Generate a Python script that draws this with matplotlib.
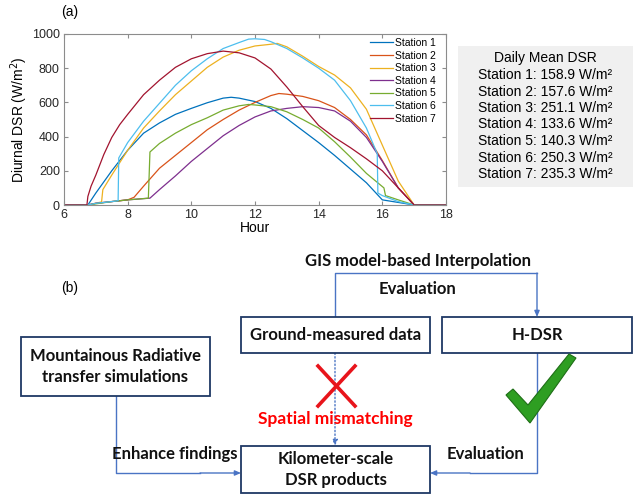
import matplotlib
matplotlib.use('Agg')
import matplotlib.pyplot as plt
from matplotlib.patches import Rectangle, Polygon

# ---- data (hour, W/m2) ----
s1_h = [6, 6.75, 7.0, 7.5, 8.0, 8.5, 9.0, 9.5, 10.0, 10.5, 11.0, 11.25, 11.5, 12.0,
        12.5, 13.0, 13.5, 14.0, 14.5, 15.0, 15.5, 16.0, 16.5, 17.0, 18]
s1_v = [0, 0, 70, 200, 320, 420, 480, 530, 565, 598, 625, 630, 625, 605,
        565, 505, 435, 365, 290, 210, 130, 30, 15, 0, 0]

s2_h = [6, 6.75, 7.0, 7.5, 8.0, 8.2, 8.5, 9.0, 9.5, 10.0, 10.5, 11.0, 11.5, 12.0,
        12.5, 12.75, 13.0, 13.5, 14.0, 14.5, 15.0, 15.5, 16.0, 16.5, 17.0, 18]
s2_v = [0, 0, 10, 20, 30, 45, 110, 215, 290, 365, 440, 500, 555, 600,
        640, 652, 648, 635, 610, 570, 500, 410, 260, 100, 0, 0]

s3_h = [6, 6.75, 7.18, 7.22, 7.5, 8.0, 8.5, 9.0, 9.5, 10.0, 10.5, 11.0, 11.5, 12.0,
        12.5, 12.7, 13.0, 13.5, 14.0, 14.5, 15.0, 15.5, 16.0, 16.5, 17.0, 18]
s3_v = [0, 0, 18, 90, 175, 320, 450, 550, 645, 725, 805, 865, 905, 930,
        940, 945, 925, 870, 810, 760, 685, 560, 350, 140, 0, 0]

s4_h = [6, 6.75, 7.0, 7.5, 8.0, 8.7, 9.0, 9.5, 10.0, 10.5, 11.0, 11.5, 12.0, 12.5,
        13.0, 13.5, 14.0, 14.5, 15.0, 15.5, 16.0, 16.5, 17.0, 18]
s4_v = [0, 0, 10, 20, 30, 40, 90, 170, 255, 330, 405, 465, 515, 550,
        565, 575, 570, 550, 490, 395, 255, 100, 0, 0]

s5_h = [6, 6.75, 7.5, 8.0, 8.65, 8.7, 9.0, 9.5, 10.0, 10.5, 11.0, 11.5, 11.8, 12.0,
        12.5, 13.0, 13.5, 14.0, 14.5, 15.0, 15.5, 16.05, 16.1, 16.5, 17.0, 18]
s5_v = [0, 0, 20, 30, 40, 310, 360, 420, 470, 510, 555, 580, 588, 585,
        575, 545, 500, 450, 370, 280, 185, 100, 55, 30, 0, 0]

s6_h = [6, 6.75, 7.0, 7.5, 7.7, 7.72, 8.0, 8.5, 9.0, 9.5, 10.0, 10.5, 11.0, 11.5,
        11.8, 12.0, 12.3, 12.5, 13.0, 13.5, 14.0, 14.5, 15.0, 15.5, 15.84, 15.86,
        16.0, 16.5, 17.0, 18]
s6_v = [0, 0, 10, 20, 25, 275, 365, 490, 595, 700, 785, 855, 915, 950,
        970, 972, 968, 955, 915, 860, 800, 730, 610, 450, 300, 70,
        55, 20, 0, 0]

s7_h = [6, 6.72, 6.75, 6.85, 7.0, 7.25, 7.5, 7.75, 8.0, 8.5, 9.0, 9.5, 10.0, 10.5,
        11.0, 11.5, 12.0, 12.5, 13.0, 13.5, 14.0, 14.5, 15.0, 15.5, 16.0, 16.5,
        17.0, 18]
s7_v = [0, 0, 50, 110, 175, 295, 395, 470, 530, 645, 730, 805, 855, 885,
        900, 890, 860, 795, 690, 575, 465, 395, 335, 270, 200, 100,
        0, 0]

names = ['Station 1', 'Station 2', 'Station 3', 'Station 4',
         'Station 5', 'Station 6', 'Station 7']
daily_mean = [158.9, 157.6, 251.1, 133.6, 140.3, 250.3, 235.3]

colors = ['#0072BD', '#D95319', '#EDB120', '#7E2F8E',
          '#77AC30', '#4DBEEE', '#A2142F']

series = [(s1_h, s1_v), (s2_h, s2_v), (s3_h, s3_v), (s4_h, s4_v),
          (s5_h, s5_v), (s6_h, s6_v), (s7_h, s7_v)]

W, H = 644, 496
fig = plt.figure(figsize=(W / 100, H / 100), dpi=100)

# ---- panel (a) ----
ax = fig.add_axes([64 / W, 1 - 205 / H, 382 / W, 171 / H])
for (hh, vv), c, n in zip(series, colors, names):
    ax.plot(hh, vv, color=c, lw=0.9, label=n)
ax.set_xlim(6, 18)
ax.set_ylim(0, 1000)
ax.set_xticks(range(6, 19, 2))
ax.set_yticks(range(0, 1001, 200))
ax.tick_params(direction='in', top=True, right=True, length=3,
               color='#8c8c8c', labelsize=9, labelcolor='#262626', pad=3)
for sp in ax.spines.values():
    sp.set_color('#8c8c8c')
    sp.set_linewidth(0.8)
for lab in ax.get_xticklabels() + ax.get_yticklabels():
    lab.set_family('Liberation Sans')
ax.set_xlabel('Hour', fontsize=10, family='Liberation Sans', labelpad=0)
ax.set_ylabel('Diurnal DSR (W/m$^2$)', fontsize=10, family='Liberation Sans',
              labelpad=1)
leg = ax.legend(loc='upper right', bbox_to_anchor=(436 / W, 1 - 38 / H),
                bbox_transform=fig.transFigure, frameon=False,
                prop={'family': 'Liberation Sans', 'size': 7.5},
                handlelength=2.2, handletextpad=0.2, labelspacing=0.25,
                borderpad=0, borderaxespad=0)

# ---- overlay in pixel coordinates ----
ov = fig.add_axes([0, 0, 1, 1], zorder=-1)
ov.set_xlim(0, W)
ov.set_ylim(H, 0)
ov.axis('off')
top = fig.add_axes([0, 0, 1, 1], zorder=5)
top.set_xlim(0, W)
top.set_ylim(H, 0)
top.axis('off')
top.patch.set_alpha(0)

ov.text(70, 12, '(a)', fontsize=10, family='Liberation Sans',
        ha='center', va='center')

# daily mean box
ov.add_patch(Rectangle((458, 46), 175, 141, facecolor='#f0f0f0',
                       edgecolor='none'))
ov.text(545.5, 58, 'Daily Mean DSR', fontsize=10, family='Liberation Sans',
        ha='center', va='center')
for i, (n, m) in enumerate(zip(names, daily_mean)):
    ov.text(545.5, 75 + i * 16.5, '%s: %.1f W/m\u00b2' % (n, m), fontsize=10,
            family='Liberation Sans', ha='center', va='center')

# ---- panel (b) flowchart ----
ov.text(70, 288, '(b)', fontsize=10, family='Liberation Sans',
        ha='center', va='center')

box_ec = '#1F3864'
line_c = '#4A74C4'
bfont = dict(family='Lato', weight='bold', fontsize=12, color='#111111')

boxes = [
    (241, 317, 189, 36, 'Ground-measured data'),
    (442, 317, 190, 36, 'H-DSR'),
    (21, 337, 189, 59, 'Mountainous Radiative\ntransfer simulations'),
    (241, 446, 189, 47, 'Kilometer-scale\nDSR products'),
]
for x, y, w, h, t in boxes:
    top.add_patch(Rectangle((x, y), w, h, facecolor='white',
                            edgecolor=box_ec, lw=1.3))
    top.text(x + w / 2, y + h / 2, t, ha='center', va='center',
             linespacing=1.35, **bfont)

arr = dict(arrowstyle='-|>,head_length=0.35,head_width=0.15',
           color=line_c, lw=1, shrinkA=0, shrinkB=0)

# GIS interpolation path
ov.plot([335, 335, 537], [317, 273, 273], color=line_c, lw=1)
ov.annotate('', xy=(537, 317), xytext=(537, 273), arrowprops=arr)
ov.text(418, 261, 'GIS model-based Interpolation', ha='center', va='center',
        **bfont)
ov.text(418, 289, 'Evaluation', ha='center', va='center', **bfont)

# dotted ground -> product
ov.annotate('', xy=(335, 446), xytext=(335, 353),
            arrowprops=dict(arr, linestyle=':'))

# mountain -> product
ov.plot([116, 116, 200], [396, 473, 473], color=line_c, lw=1)
ov.annotate('', xy=(241, 473), xytext=(200, 473), arrowprops=arr)
ov.text(175, 454, 'Enhance findings', ha='center', va='center', **bfont)

# H-DSR -> product
ov.plot([537, 537, 470], [353, 473, 473], color=line_c, lw=1)
ov.annotate('', xy=(430, 473), xytext=(470, 473), arrowprops=arr)
ov.text(486, 454, 'Evaluation', ha='center', va='center', **bfont)

# red cross and label
top.plot([318, 355], [366, 406], color='#E8141B', lw=2.6)
top.plot([355, 318], [366, 406], color='#E8141B', lw=2.6)
top.text(335, 419, 'Spatial mismatching', ha='center', va='center',
         family='Lato', weight='bold', fontsize=12.5, color='#FF0000')

# green check mark
check = [(506, 395), (513, 389), (528, 405), (569, 354), (576, 358), (530, 423)]
top.add_patch(Polygon(check, closed=True, facecolor='#2E9E22',
                      edgecolor='#1E6E16', lw=0.8))

fig.savefig('out.png', dpi=100)
